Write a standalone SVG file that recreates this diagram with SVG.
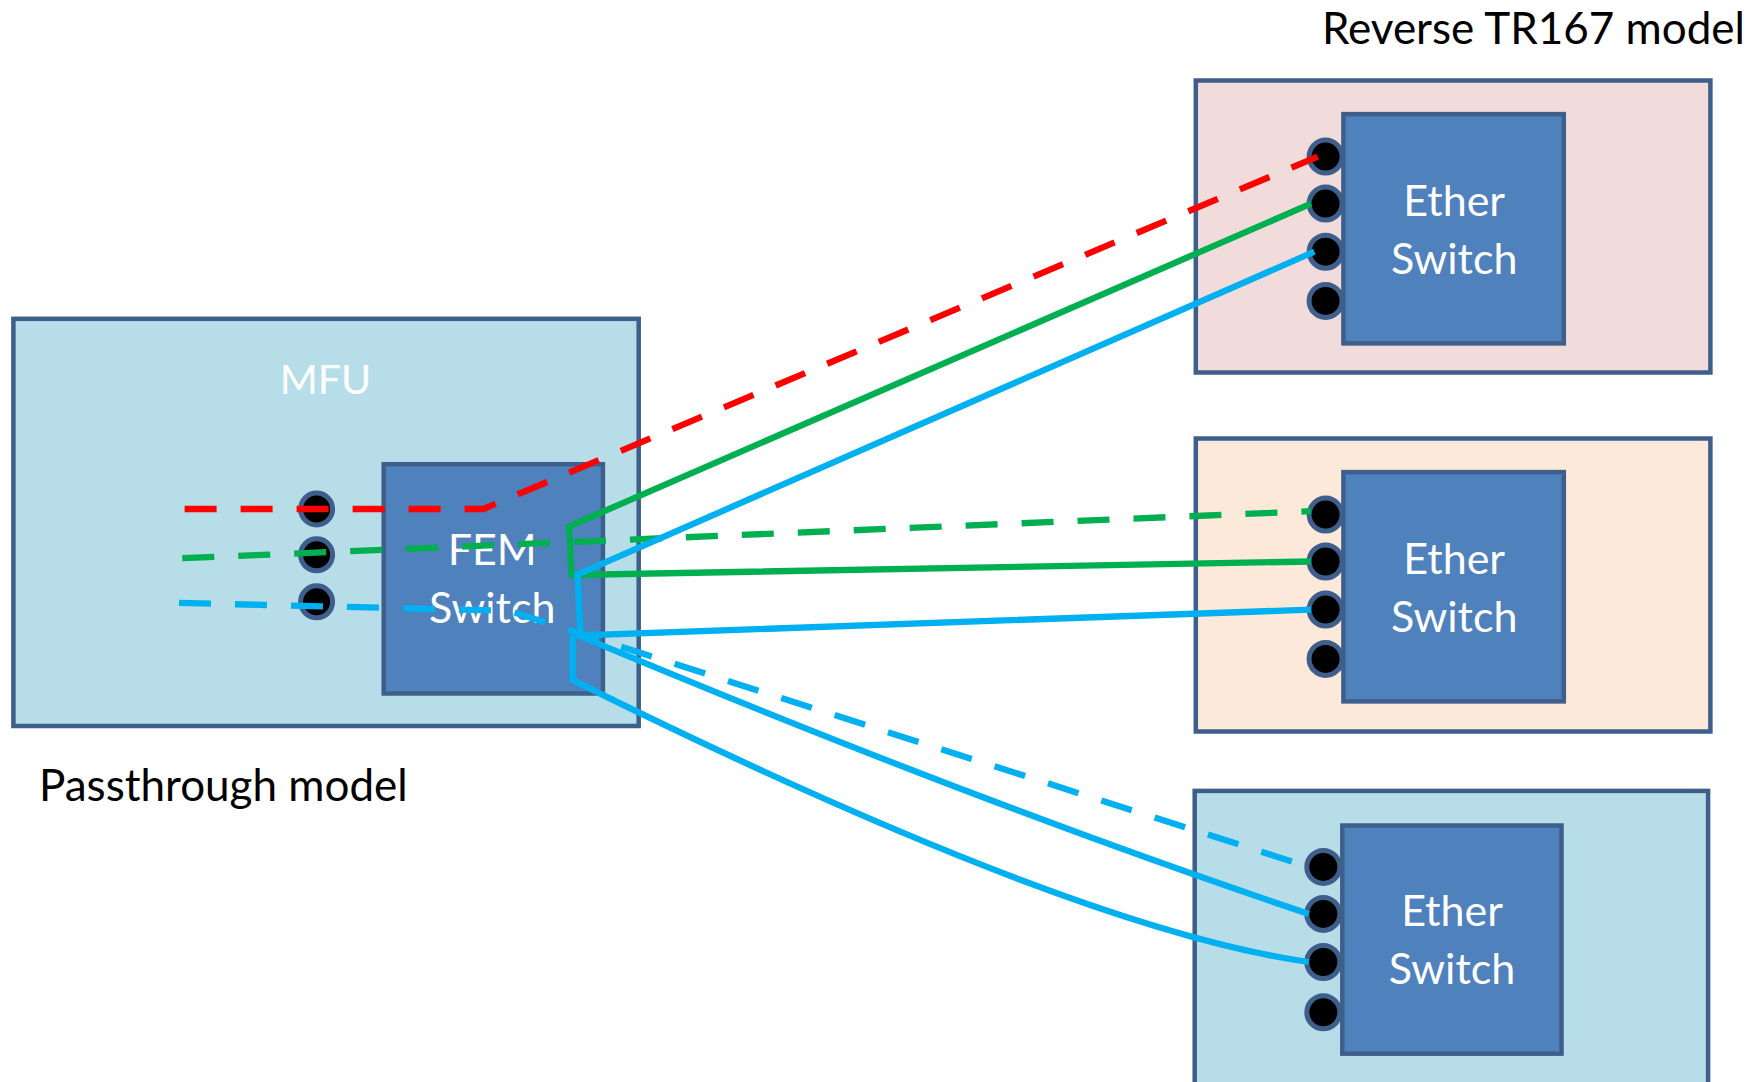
<svg xmlns="http://www.w3.org/2000/svg" width="1754" height="1082" viewBox="0 0 1754 1082">
<style>
.box{stroke:#3e5f8c;stroke-width:4.5}
.sw{fill:#4f81bd;stroke:#3e5f8c;stroke-width:4.5}
.port{fill:#000;stroke:#3e5f8c;stroke-width:5}
.wt{font-family:Lato,"Liberation Sans",sans-serif;fill:#fff;text-anchor:middle}
.lbl{font-family:Lato,"Liberation Sans",sans-serif;fill:#000;font-size:44px}
.c{fill:none;stroke-width:6.3}
.d{stroke-dasharray:32 24}
</style>
<rect width="1754" height="1082" fill="#fff"/>
<text class="lbl" x="1745" y="44" font-size="43.5" text-anchor="end">Reverse TR167 model</text>
<text class="lbl" x="39" y="801">Passthrough model</text>
<g id="mfu">
<rect class="box" x="13.4" y="318.8" width="625.3" height="407.2" fill="#b7dde8"/>
<text class="wt" x="325.5" y="393.7" font-size="41">MFU</text>
<circle class="port" cx="316.6" cy="509" r="16"/>
<circle class="port" cx="316.6" cy="554.8" r="16"/>
<circle class="port" cx="316.6" cy="601.8" r="16"/>
</g>
<g id="fem">
<rect class="sw" x="383.7" y="464.2" width="219.2" height="229.3"/>
<text class="wt" x="492.2" y="565" font-size="43">FEM</text>
<text class="wt" x="492.2" y="623" font-size="43">Switch</text>
</g>
<g id="tr167-top">
<rect class="box" x="1195.8" y="80.5" width="514.6" height="292" fill="#f2dcdb"/>
<rect class="sw" x="1343.4" y="114.1" width="220.4" height="229.3"/>
<text class="wt" x="1454.2" y="215.9" font-size="43">Ether</text>
<text class="wt" x="1454.2" y="274.1" font-size="43">Switch</text>
<circle class="port" cx="1325.6" cy="156.6" r="16.5"/>
<circle class="port" cx="1325.6" cy="203.6" r="16.5"/>
<circle class="port" cx="1325.6" cy="251.7" r="16.5"/>
<circle class="port" cx="1325.6" cy="300.9" r="16.5"/>
</g>
<g id="tr167-mid">
<rect class="box" x="1195.8" y="438.5" width="514.6" height="293" fill="#fde9d9"/>
<rect class="sw" x="1343.4" y="472.1" width="220.4" height="229.3"/>
<text class="wt" x="1454.2" y="573.8" font-size="43">Ether</text>
<text class="wt" x="1454.2" y="632" font-size="43">Switch</text>
<circle class="port" cx="1325.6" cy="514.6" r="16.5"/>
<circle class="port" cx="1325.6" cy="561.5" r="16.5"/>
<circle class="port" cx="1325.6" cy="609.6" r="16.5"/>
<circle class="port" cx="1325.6" cy="658.9" r="16.5"/>
</g>
<g id="tr167-bottom">
<rect class="box" x="1194.7" y="790.9" width="513.4" height="320" fill="#b7dde8"/>
<rect class="sw" x="1342.3" y="825.5" width="219.2" height="228.2"/>
<text class="wt" x="1452" y="926.2" font-size="43">Ether</text>
<text class="wt" x="1452" y="984.4" font-size="43">Switch</text>
<circle class="port" cx="1323.3" cy="866.9" r="16.5"/>
<circle class="port" cx="1323.3" cy="913.9" r="16.5"/>
<circle class="port" cx="1323.3" cy="962" r="16.5"/>
<circle class="port" cx="1323.3" cy="1012.3" r="16.5"/>
</g>
<g id="connectors">
<path class="c d" stroke="#ff0000" d="M184.6,509 L483.2,509 L1317.7,156.6"/>
<path class="c d" stroke="#00b050" d="M182.3,558.2 L1311,511.2"/>
<path class="c d" stroke="#00b0f0" d="M179,602.9 L509,610.8 L1308.8,866.9"/>
<path class="c" stroke="#00b050" d="M1311,203.6 L569,526.5 L571.6,575 L1311,561.5"/>
<path class="c" stroke="#00b0f0" d="M1314.4,251.7 L577.5,574.5 L580.5,635.4 L1311,609.6"/>
<path class="c" stroke="#00b0f0" d="M576,634.3 Q984,805.4 1308.8,913.9"/>
<path class="c" stroke="#00b0f0" d="M572.7,635.4 L572.7,680.1 Q1073.9,928.4 1308.8,962"/>
</g>
</svg>
